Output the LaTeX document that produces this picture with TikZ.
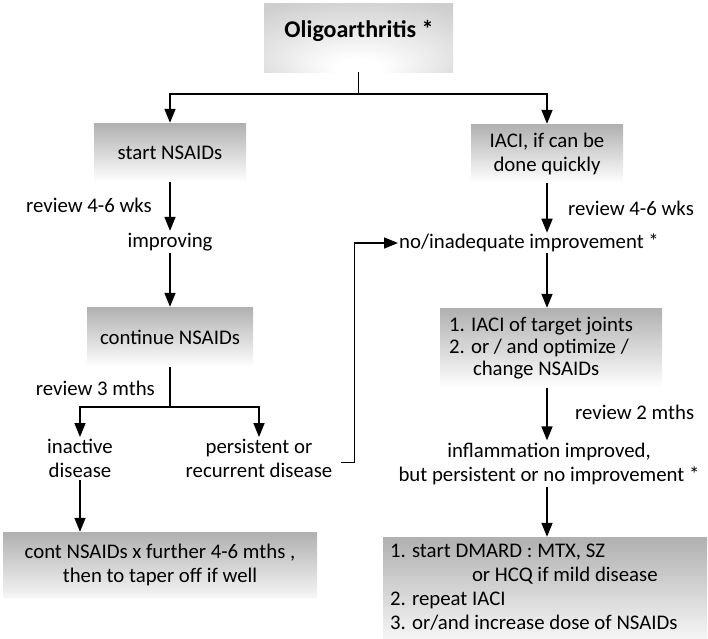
\documentclass[tikz,border=0pt]{standalone}
\usepackage{fontspec}
\setmainfont{Carlito}
\usetikzlibrary{arrows.meta}
\pgfdeclareradialshading{glow}{\pgfpoint{0bp}{-24bp}}{color(0bp)=(white); color(6bp)=(white); color(38bp)=(black!19); color(60bp)=(black!24)}
\begin{document}
\begin{tikzpicture}[x=1pt,y=-1pt, font=\fontsize{20.8}{24}\selectfont,
  arr/.style={-{Triangle[length=14pt,width=11pt]}, line width=1.6pt},
  ln/.style={line width=1.6pt},
  gbox/.style={top color=black!31, bottom color=white, inner sep=0pt, align=center},
  lbl/.style={inner sep=2pt, align=center}]
\useasboundingbox (0,0) rectangle (708,638);
% boxes
\node[shading=glow, minimum width=189pt, minimum height=69pt, inner sep=0pt] (top) at (358.5,37.5) {};
\node[inner sep=0pt] (toptxt) at (359,31) {\fontsize{24}{28}\selectfont\bfseries Oligoarthritis *};
\node[gbox, minimum width=152pt, minimum height=59pt] (startn) at (170,152.5) {start NSAIDs};
\node[gbox, minimum width=152pt, minimum height=59pt] (iaci) at (547,153.5) {IACI, if can be\\done quickly};
\node[lbl] (improv) at (170,242) {improving};
\node[gbox, minimum width=166pt, minimum height=60pt] (contn) at (170,337) {continue NSAIDs};
\node[lbl] (inact) at (80,458.5) {inactive\\disease};
\node[lbl] (persist) at (259,458.5) {persistent or\\recurrent disease};
\node[gbox, bottom color=black!4, minimum width=314pt, minimum height=65pt] (contf) at (160,564.5) {cont NSAIDs x further 4-6 mths ,\\then to taper off if well};
\node[lbl, anchor=west, inner sep=1pt] (noinad) at (398,243) {no/inadequate improvement *};
\node[gbox, minimum width=222pt, minimum height=80pt, align=flush left, text width=204pt, font=\fontsize{20.8}{21.8}\selectfont] (iacit) at (551,348) {1. IACI of target joints\\2. or / and optimize /\\\hspace*{24pt}change NSAIDs};
\node[lbl] (infl) at (549,463.5) {inflammation improved,\\but persistent or no improvement *};
\node[gbox, bottom color=black!4, minimum width=324pt, minimum height=101pt, align=flush left, text width=310pt] (dmard) at (545,587.5) {1. start DMARD : MTX, SZ\\\hspace*{82pt}or HCQ if mild disease\\2. repeat IACI\\3. or/and increase dose of NSAIDs};
% labels
\node[lbl, anchor=east, inner sep=0pt] (rv1) at (152,205) {review 4-6 wks};
\node[lbl, anchor=east, inner sep=0pt] (rv2) at (155,388) {review 3 mths};
\node[lbl, anchor=west, inner sep=0pt] (rv3) at (568,208) {review 4-6 wks};
\node[lbl, anchor=west, inner sep=0pt] (rv4) at (575,412) {review 2 mths};
% connectors
\draw[ln] (top.south) -- ++(0,22) coordinate (sp);
\draw[arr] (sp) -| (startn.north);
\draw[arr] (sp) -| (iaci.north);
\draw[arr] (startn.south) -- (improv.north);
\draw[arr] (improv.south) -- (contn.north);
\draw[ln] (contn.south) -- ++(0,40) coordinate (sp2);
\draw[arr] (sp2) -| (inact.north);
\draw[arr] (sp2) -| (persist.north);
\draw[arr] (inact.south) -- (inact.south |- contf.north);
\draw[arr] (persist.east) ++(6,4) coordinate (pe) -- ++(14,0) |- (noinad.west);
\draw[arr] (iaci.south) -- (iaci.south |- noinad.north);
\draw[arr] (iaci.south |- noinad.south) -- (iaci.south |- iacit.north);
\draw[arr] (iaci.south |- iacit.south) -- (iaci.south |- infl.north);
\draw[arr] (iaci.south |- infl.south) -- (iaci.south |- dmard.north);
\end{tikzpicture}
\end{document}
